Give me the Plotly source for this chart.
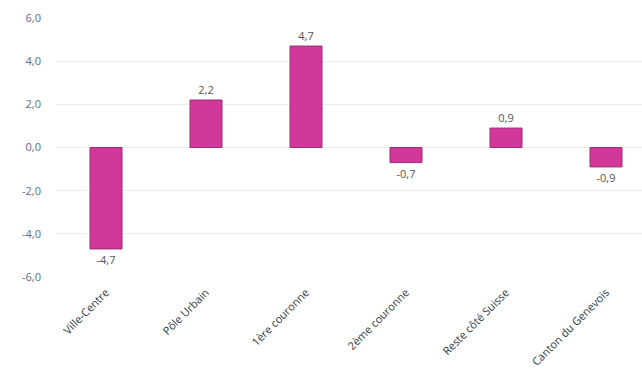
import plotly.graph_objects as go

categories = ["Ville-Centre", "Pôle Urbain", "1ère couronne", "2ème couronne", "Reste côté Suisse", "Canton du Genevois"]
values = [-4.7, 2.2, 4.7, -0.7, 0.9, -0.9]
y_ticks = [-6, -4, -2, 0, 2, 4, 6]
y_tick_text = ["-6,0", "-4,0", "-2,0", "0,0", "2,0", "4,0", "6,0"]

fig = go.Figure()
fig.add_trace(go.Bar(
    x=categories, y=values, width=0.32,
    marker=dict(color="#d2389a", line=dict(color="#9c2c74", width=1)),
    text=[f"{v:.1f}".replace(".", ",") for v in values],
    textposition="outside", cliponaxis=False,
    textfont=dict(size=11, color="#555555", family="Open Sans"),
))
fig.update_layout(
    width=642, height=389,
    margin=dict(l=56, r=0, t=18, b=112),
    paper_bgcolor="white", plot_bgcolor="white",
    showlegend=False,
    font=dict(family="Open Sans", size=11, color="#5a6e8a"),
    xaxis=dict(range=[-0.5, 5.36], tickangle=-45, showgrid=False, showline=False,
               ticklabelstandoff=6,
               tickfont=dict(size=11, color="#2e3a4c")),
    yaxis=dict(range=[-6, 6], tickvals=y_ticks, ticktext=y_tick_text,
               showgrid=True, gridcolor="#eeeeee", zeroline=False,
               ticklabelstandoff=14,
               tickfont=dict(size=11, color="#5a6e8a")),
)
fig.write_html("out.html")
